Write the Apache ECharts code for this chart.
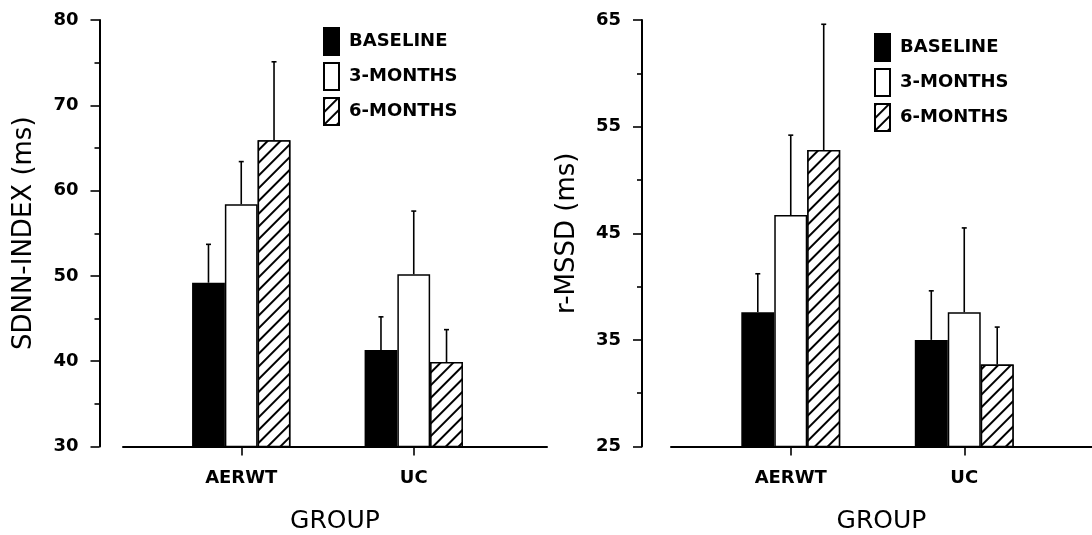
<!DOCTYPE html>
<html>
<head>
<meta charset="utf-8">
<script src="https://cdn.jsdelivr.net/npm/echarts@6/dist/echarts.min.js"></script>
<style>
  html, body { margin: 0; padding: 0; background: #fff; }
  #chart { width: 1092px; height: 535px; }
</style>
</head>
<body>
<div id="chart"></div>
<script>
// Groups and visit labels
const groups = ['AERWT', 'UC'];
const visits = ['BASELINE', '3-MONTHS', '6-MONTHS'];

// SDNN-index (ms): means and standard deviations per group
const sdnnBaseline = [49.2, 41.3];
const sdnnMonth3 = [58.4, 50.2];
const sdnnMonth6 = [65.9, 39.9];
const sdnnBaselineSd = [4.5, 3.9];
const sdnnMonth3Sd = [5.0, 7.4];
const sdnnMonth6Sd = [9.2, 3.8];

// r-MSSD (ms): means and standard deviations per group
const rmssdBaseline = [37.6, 35.0];
const rmssdMonth3 = [46.7, 37.6];
const rmssdMonth6 = [52.8, 32.7];
const rmssdBaselineSd = [3.6, 4.6];
const rmssdMonth3Sd = [7.5, 7.9];
const rmssdMonth6Sd = [11.8, 3.5];

// Value-axis ranges
const sdnnRange = [30, 80];
const rmssdRange = [25, 65];
const tickStep = 10;

const BAR_FRACTION = 0.19;   // bar width as share of the category band
const INK = '#000';
const FONT = 'DejaVu Sans';

const hatch = {
  symbol: 'rect',
  symbolSize: 1,
  color: INK,
  backgroundColor: '#fff',
  dashArrayX: [1, 0],
  dashArrayY: [1.6, 6.2],
  rotation: -Math.PI / 4
};

const barStyles = [
  { color: INK, borderColor: INK, borderWidth: 1.5 },
  { color: '#fff', borderColor: INK, borderWidth: 1.5 },
  { color: '#fff', borderColor: INK, borderWidth: 1.5, decal: hatch }
];

function valueAxisVisible(range, gridIndex, offset, name) {
  return {
    type: 'value', gridIndex: gridIndex, min: range[0], max: range[1], interval: tickStep,
    offset: offset,
    name: name, nameLocation: 'middle', nameGap: 62,
    nameTextStyle: { fontFamily: FONT, fontSize: 26, color: INK },
    axisLine: { show: true, onZero: false, lineStyle: { color: INK, width: 2 } },
    axisTick: { show: true, length: 9, lineStyle: { color: INK, width: 1.6 } },
    minorTick: { show: true, splitNumber: 2, length: 5, lineStyle: { color: INK, width: 1.6 } },
    axisLabel: { margin: 21, fontFamily: FONT, fontWeight: 'bold', fontSize: 18, color: INK },
    splitLine: { show: false }
  };
}
function valueAxisHidden(range, gridIndex) {
  return {
    type: 'value', gridIndex: gridIndex, min: range[0], max: range[1], interval: tickStep,
    show: false, splitLine: { show: false }
  };
}
function baselineAxis(gridIndex) {
  return {
    type: 'value', gridIndex: gridIndex, min: 0, max: 1,
    name: 'GROUP', nameLocation: 'middle', nameGap: 62,
    nameTextStyle: { fontFamily: FONT, fontSize: 25, color: INK },
    axisLine: { show: true, onZero: false, lineStyle: { color: INK, width: 2 } },
    axisTick: { show: false }, axisLabel: { show: false }, splitLine: { show: false }
  };
}
function groupAxis(gridIndex) {
  return {
    type: 'category', gridIndex: gridIndex, data: groups,
    axisLine: { show: false, onZero: false },
    axisTick: { show: true, alignWithLabel: true, length: 9, lineStyle: { color: INK, width: 1.6 } },
    axisLabel: { margin: 23, fontFamily: FONT, fontWeight: 'bold', fontSize: 18, color: INK }
  };
}

function barSeries(name, values, k, xIdx, yIdx) {
  return {
    type: 'bar', name: name, xAxisIndex: xIdx, yAxisIndex: yIdx,
    data: values, barWidth: (BAR_FRACTION * 100) + '%', barGap: '0%',
    itemStyle: barStyles[k], z: 2
  };
}

// Upper error bar: stem from the bar top plus a short cap
function errorSeries(name, means, sds, k, xIdx, yIdx) {
  return {
    type: 'custom', name: name + ' SD', xAxisIndex: xIdx, yAxisIndex: yIdx, z: 3,
    data: means.map((m, i) => [i, m, m + sds[i]]),
    encode: { x: 0, y: [1, 2] },
    renderItem: function (params, api) {
      const band = api.size([1, 0])[0];
      const shift = (k - 1) * band * BAR_FRACTION;
      const base = api.coord([api.value(0), api.value(1)]);
      const top = api.coord([api.value(0), api.value(2)]);
      const x = base[0] + shift;
      const style = { stroke: INK, lineWidth: 1.6 };
      return {
        type: 'group',
        children: [
          { type: 'line', shape: { x1: x, y1: base[1], x2: x, y2: top[1] }, style: style },
          { type: 'line', shape: { x1: x - 2.5, y1: top[1], x2: x + 2.5, y2: top[1] }, style: style }
        ]
      };
    }
  };
}

function legendAt(left, top) {
  return {
    left: left, top: top, padding: 0, orient: 'vertical', selectedMode: false,
    data: visits, icon: 'rect', itemWidth: 15, itemHeight: 27, itemGap: 6,
    textStyle: { fontFamily: FONT, fontWeight: 'bold', fontSize: 18, color: INK, padding: [0, 0, 0, 5] }
  };
}

function gridBox(left, width, right) {
  const g = { top: 20, bottom: 88.5, left: left, containLabel: false, outerBoundsMode: 'none' };
  if (width != null) g.width = width; else g.right = right;
  return g;
}

const sdnnSets = [[sdnnBaseline, sdnnBaselineSd], [sdnnMonth3, sdnnMonth3Sd], [sdnnMonth6, sdnnMonth6Sd]];
const rmssdSets = [[rmssdBaseline, rmssdBaselineSd], [rmssdMonth3, rmssdMonth3Sd], [rmssdMonth6, rmssdMonth6Sd]];

const series = [];
sdnnSets.forEach((s, k) => {
  series.push(barSeries(visits[k], s[0], k, 1, 1));
  series.push(errorSeries(visits[k], s[0], s[1], k, 1, 1));
});
rmssdSets.forEach((s, k) => {
  series.push(barSeries(visits[k], s[0], k, 3, 3));
  series.push(errorSeries(visits[k], s[0], s[1], k, 3, 3));
});

const option = {
  backgroundColor: '#fff',
  animation: false,
  legend: [legendAt(323, 27), legendAt(874, 33)],
  grid: [
    gridBox(123, null, 545),   // SDNN axes frame
    gridBox(155, 345),         // SDNN bars
    gridBox(671, null, 0),     // r-MSSD axes frame
    gridBox(704, 347)          // r-MSSD bars
  ],
  xAxis: [baselineAxis(0), groupAxis(1), baselineAxis(2), groupAxis(3)],
  yAxis: [
    valueAxisVisible(sdnnRange, 0, 23.5, 'SDNN-INDEX (ms)'),
    valueAxisHidden(sdnnRange, 1),
    valueAxisVisible(rmssdRange, 2, 29, 'r-MSSD (ms)'),
    valueAxisHidden(rmssdRange, 3)
  ],
  series: series
};

const chart = echarts.init(document.getElementById('chart'), null, { renderer: 'canvas' });
chart.setOption(option);
</script>
</body>
</html>
